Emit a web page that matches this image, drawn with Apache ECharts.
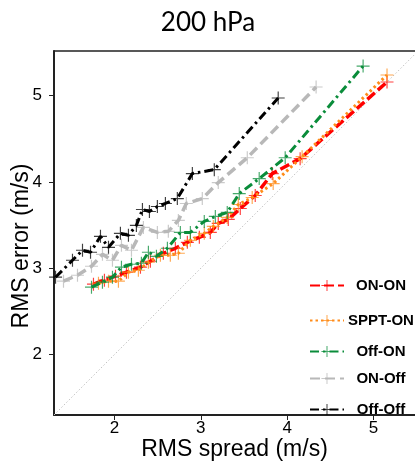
<!DOCTYPE html>
<html>
<head>
<meta charset="utf-8">
<script src="https://cdn.jsdelivr.net/npm/echarts@6/dist/echarts.min.js"></script>
<style>
  html, body { margin: 0; padding: 0; background: #fff; }
  #chart { width: 415px; height: 464px; }
</style>
</head>
<body>
<div id="chart"></div>
<script>
// RMS spread vs RMS error at 200 hPa, one line per experiment
const seriesNames = ['ON-ON', 'SPPT-ON', 'Off-ON', 'ON-Off', 'Off-Off'];

const onOnSpread = [1.757, 1.884, 2.012, 2.139, 2.301, 2.416, 2.566, 2.705, 2.844, 2.983, 3.110, 3.202, 3.318, 3.457, 3.630, 3.827, 4.150, 5.156];
const onOnError  = [2.815, 2.862, 2.908, 2.954, 3.012, 3.081, 3.173, 3.231, 3.300, 3.358, 3.415, 3.519, 3.565, 3.692, 3.842, 4.096, 4.269, 5.157];

const spptOnSpread = [1.815, 1.931, 2.046, 2.162, 2.277, 2.393, 2.532, 2.647, 2.740, 2.879, 3.040, 3.145, 3.306, 3.434, 3.595, 3.838, 4.173, 5.156];
const spptOnError  = [2.827, 2.850, 2.850, 2.954, 2.977, 3.069, 3.150, 3.150, 3.173, 3.323, 3.404, 3.484, 3.588, 3.738, 3.819, 3.980, 4.292, 5.238];

const offOnSpread = [1.734, 1.861, 1.977, 2.081, 2.197, 2.312, 2.393, 2.486, 2.613, 2.763, 2.879, 3.040, 3.168, 3.306, 3.445, 3.676, 3.977, 4.879];
const offOnError  = [2.781, 2.839, 2.896, 3.012, 3.046, 3.058, 3.185, 3.138, 3.231, 3.415, 3.415, 3.542, 3.600, 3.646, 3.865, 4.038, 4.280, 5.341];

const onOffSpread = [1.410, 1.572, 1.734, 1.861, 1.977, 2.081, 2.197, 2.335, 2.497, 2.624, 2.740, 2.832, 3.017, 3.202, 3.538, 4.335];
const onOffError  = [2.850, 2.919, 3.023, 3.161, 3.092, 3.265, 3.208, 3.473, 3.415, 3.427, 3.554, 3.750, 3.807, 3.992, 4.280, 5.099];

const offOffSpread = [1.318, 1.514, 1.630, 1.723, 1.838, 1.931, 2.069, 2.162, 2.254, 2.324, 2.405, 2.497, 2.590, 2.728, 2.902, 3.156, 3.896];
const offOffError  = [2.896, 3.092, 3.208, 3.185, 3.369, 3.242, 3.404, 3.381, 3.496, 3.680, 3.657, 3.715, 3.750, 3.807, 4.096, 4.142, 4.972];

// one-to-one reference line (spread == error)
const identityEnds = [1.3, 5.6];

const xTicks = [2, 3, 4, 5];
const yTicks = [2, 3, 4, 5];

const spreadArrays = [onOnSpread, spptOnSpread, offOnSpread, onOffSpread, offOffSpread];
const errorArrays  = [onOnError, spptOnError, offOnError, onOffError, offOffError];

// styling per experiment
const colors = ['#ff0000', '#ff8c1a', '#0a8c3a', '#b8b8b8', '#000000'];
const dashes = [[10, 4], [2.5, 3], [9, 4, 2.5, 4], [10, 5], [9, 4, 2.5, 4]];
const widths = [3.5, 3, 3, 3.5, 3];
const legendTops = [278, 313, 344, 371, 402];

const plus = 'path://M-0.09,-1 L0.09,-1 L0.09,-0.09 L1,-0.09 L1,0.09 L0.09,0.09 L0.09,1 L-0.09,1 L-0.09,0.09 L-1,0.09 L-1,-0.09 L-0.09,-0.09 Z';

const chart = echarts.init(document.getElementById('chart'), null, { renderer: 'canvas' });

const series = [{
  name: 'identity',
  type: 'line',
  data: identityEnds.map(v => [v, v]),
  symbol: 'none',
  silent: true,
  lineStyle: { color: '#c4c4c4', width: 1, type: [1.5, 2] },
  z: 1
}];
seriesNames.forEach((name, i) => {
  series.push({
    name: name,
    type: 'line',
    data: spreadArrays[i].map((s, k) => [s, errorArrays[i][k]]),
    symbol: plus,
    symbolSize: 13,
    showAllSymbol: true,
    itemStyle: { color: colors[i], opacity: 0.75 },
    lineStyle: { color: colors[i], width: widths[i], type: dashes[i], cap: 'butt' },
    z: 2 + i
  });
});

const legends = seriesNames.map((name, i) => ({
  data: [name],
  orient: 'vertical',
  left: 309,
  top: legendTops[i],
  padding: 0,
  itemWidth: 34,
  itemHeight: 14,
  itemGap: 0,
  formatter: n => '{c|' + n + '}',
  textStyle: {
    rich: {
      c: {
        fontFamily: 'Liberation Sans, Arial, sans-serif',
        fontWeight: 'bold',
        fontSize: 15,
        color: '#000',
        width: 64,
        align: 'center'
      }
    }
  }
}));

const axisFont = { fontFamily: 'Liberation Sans, Arial, sans-serif', color: '#000' };

chart.setOption({
  animation: false,
  backgroundColor: '#fff',
  title: {
    text: '200 hPa',
    left: 203,
    top: 5,
    textAlign: 'center',
    textStyle: { fontFamily: 'Lato, sans-serif', fontWeight: 'normal', fontSize: 26, color: '#000' }
  },
  legend: legends,
  grid: { left: 54, right: 0, top: 51, bottom: 49, containLabel: false, outerBoundsMode: 'none' },
  xAxis: [{
    type: 'value',
    min: 1.3,
    max: 5.48,
    name: 'RMS spread (m/s)',
    nameLocation: 'middle',
    nameGap: 23,
    nameMoveOverlap: false,
    nameTextStyle: Object.assign({ fontSize: 23 }, axisFont),
    axisLine: { show: true, onZero: false, lineStyle: { color: '#222', width: 2 } },
    axisTick: { show: true, length: 5, customValues: xTicks, lineStyle: { color: '#222', width: 1 } },
    axisLabel: Object.assign({ fontSize: 17, margin: 5, customValues: xTicks }, axisFont),
    splitLine: { show: false }
  }, {
    type: 'value',
    position: 'top',
    min: 1.3,
    max: 5.48,
    axisLine: { show: true, onZero: false, lineStyle: { color: '#222', width: 1.5 } },
    axisTick: { show: false },
    axisLabel: { show: false },
    splitLine: { show: false }
  }],
  yAxis: {
    type: 'value',
    min: 1.3,
    max: 5.516,
    name: 'RMS error (m/s)',
    nameLocation: 'middle',
    nameGap: 21,
    nameMoveOverlap: false,
    nameTextStyle: Object.assign({ fontSize: 23, padding: [0, 26, 0, 0] }, axisFont),
    axisLine: { show: true, onZero: false, lineStyle: { color: '#222', width: 2 } },
    axisTick: { show: true, length: 5, customValues: yTicks, lineStyle: { color: '#222', width: 1 } },
    axisLabel: Object.assign({ fontSize: 17, margin: 12, customValues: yTicks }, axisFont),
    splitLine: { show: false }
  },
  series: series
});
</script>
</body>
</html>
